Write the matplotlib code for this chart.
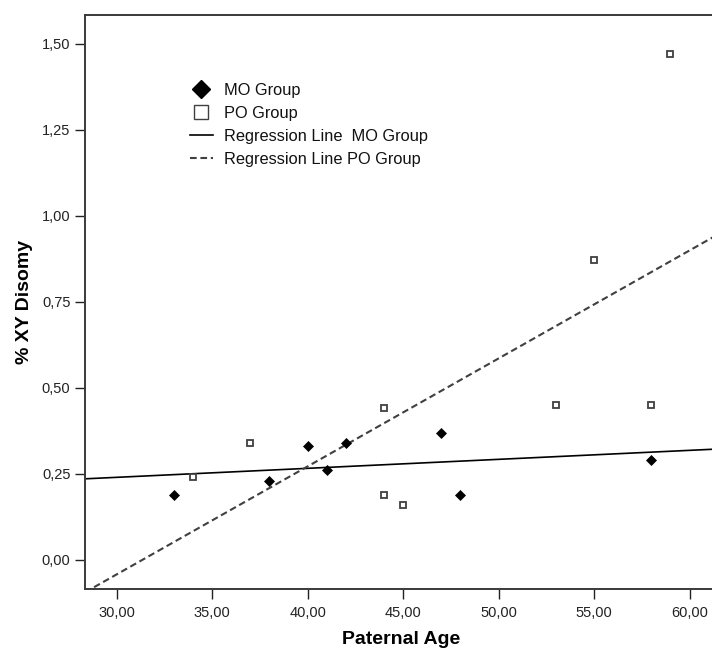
import matplotlib
matplotlib.use("Agg")
import matplotlib.pyplot as plt
import numpy as np
from matplotlib.lines import Line2D
from matplotlib.ticker import FuncFormatter

plt.rcParams['font.family'] = ['Liberation Sans', 'DejaVu Sans']

# Data
mo_age = [33, 38, 40, 41, 42, 47, 48, 58]
mo_xy = [0.19, 0.23, 0.33, 0.26, 0.34, 0.37, 0.19, 0.29]
po_age = [34, 37, 44, 44, 45, 53, 55, 58, 59]
po_xy = [0.24, 0.34, 0.44, 0.19, 0.16, 0.45, 0.87, 0.45, 1.47]

x_ticks = [30, 35, 40, 45, 50, 55, 60]
y_ticks = [0.0, 0.25, 0.50, 0.75, 1.00, 1.25, 1.50]
legend_labels = ["MO Group", "PO Group", "Regression Line  MO Group", "Regression Line PO Group"]

fig = plt.figure(figsize=(7.12, 6.5), dpi=100)
ax = fig.add_axes([85/712, (650-588.7)/650, (718-85)/712, (588.7-14.7)/650])
xlim = (28.34, 61.49)
ax.set_xlim(*xlim)
ax.set_ylim(-0.0834, 1.5837)

# regression lines
xs = np.array(xlim)
b_mo = np.polyfit(mo_age, mo_xy, 1)
b_po = np.polyfit(po_age, po_xy, 1)
ax.plot(xs, np.polyval(b_mo, xs), color='black', lw=1.2, zorder=2)
ax.plot(xs, np.polyval(b_po, xs), color='#404040', lw=1.5, dashes=(3.2, 1.8), zorder=2)

ax.plot(mo_age, mo_xy, linestyle='none', marker='D', ms=5.6, mfc='black', mec='black', mew=0.5, zorder=3)
ax.plot(po_age, po_xy, linestyle='none', marker='s', ms=5.0, mfc='white', mec='#404040', mew=1.3, zorder=3)

ax.set_xticks(x_ticks)
ax.set_yticks(y_ticks)
ax.xaxis.set_major_formatter(FuncFormatter(lambda v, p: f"{v:.2f}".replace('.', ',')))
ax.yaxis.set_major_formatter(FuncFormatter(lambda v, p: f"{v:.2f}".replace('.', ',')))
ax.tick_params(axis='both', which='major', length=7.5, width=1.0, color='#222222', labelsize=10.5, labelcolor='#222222')
ax.tick_params(axis='x', pad=5)
ax.tick_params(axis='y', pad=3)

for s in ['left', 'bottom', 'top']:
    ax.spines[s].set_linewidth(1.4)
    ax.spines[s].set_color('#3a3a3a')
ax.spines['right'].set_visible(False)

ax.set_xlabel("Paternal Age", fontsize=14, fontweight='bold', labelpad=8)
ax.set_ylabel("% XY Disomy", fontsize=14, fontweight='bold', labelpad=6)

handles = [
    Line2D([], [], linestyle='none', marker='D', ms=9.5, mfc='black', mec='black'),
    Line2D([], [], linestyle='none', marker='s', ms=9.5, mfc='white', mec='#404040', mew=1.0),
    Line2D([], [], color='black', lw=1.2),
    Line2D([], [], color='#404040', lw=1.5, dashes=(3.2, 1.8)),
]
leg = ax.legend(handles, legend_labels, loc='upper left', bbox_to_anchor=(190/712, 1 - 82.5/650),
                bbox_transform=fig.transFigure, frameon=False, fontsize=11.8,
                handlelength=1.4, handletextpad=0.68, labelspacing=0.5, borderpad=0, borderaxespad=0)
for t in leg.get_texts():
    t.set_color('#111111')

fig.savefig("out.png", dpi=100)
